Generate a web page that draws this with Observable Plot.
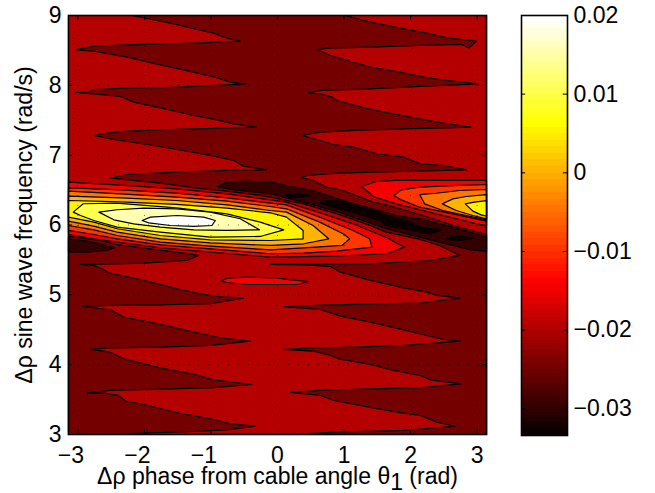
<!DOCTYPE html>
<html><head><meta charset="utf-8">
<script src="https://cdn.jsdelivr.net/npm/d3@7"></script>
<script src="https://cdn.jsdelivr.net/npm/@observablehq/plot@0.6"></script>
<style>
html,body{margin:0;padding:0;background:#fff}
#wrap{position:relative;width:655px;height:493px;overflow:hidden}
#wrap svg{position:absolute;top:0;background:transparent}
</style></head><body><div id="wrap"></div>
<script>
// Contour outlines, in data units: [phase (rad), frequency (rad/s)]
const PI = 3.1416;
const bgRegion = [[-PI,3],[PI,3],[PI,9],[-PI,9]];
const darkMain = [[-2.185,9],[-1.61,8.89],[-1.26,8.81],[-0.96,8.747],[-0.76,8.676],[-0.56,8.633],[-1.26,8.604],[-2.26,8.58],[-2.76,8.561],[-3.035,8.509],[-2.76,8.49],[-2.26,8.404],[-1.76,8.294],[-1.26,8.189],[-0.91,8.108],[-0.71,8.046],[-0.485,8.022],[-1.26,7.984],[-1.76,7.965],[-2.26,7.96],[-2.76,7.94],[-2.86,7.9],[-3.035,7.9],[-2.76,7.879],[-2.36,7.84],[-2.16,7.759],[-1.76,7.678],[-1.26,7.568],[-0.91,7.506],[-0.66,7.449],[-0.31,7.401],[-0.76,7.387],[-1.26,7.377],[-1.76,7.363],[-2.26,7.344],[-2.56,7.315],[-2.76,7.282],[-2.51,7.234],[-2.26,7.196],[-1.96,7.153],[-1.51,7.081],[-1.01,6.996],[-0.66,6.924],[-0.51,6.843],[-0.16,6.79],[-0.76,6.781],[-1.26,6.766],[-1.76,6.747],[-2.26,6.723],[-2.51,6.671],[-2.26,6.647],[-1.76,6.599],[-1.26,6.533],[-0.76,6.485],[-0.26,6.423],[-0.105,6.399],[0.135,6.351],[0.395,6.303],[0.895,6.16],[1.395,5.993],[1.635,5.898],[2.145,5.793],[2.435,5.707],[2.745,5.564],[2.295,5.492],[1.395,5.444],[0.395,5.435],[-0.105,5.435],[0.395,5.43],[0.795,5.406],[0.945,5.325],[1.395,5.206],[1.895,5.1],[2.245,5.039],[2.395,4.991],[2.745,4.953],[2.145,4.881],[1.395,4.867],[0.645,4.852],[0.095,4.829],[0.645,4.79],[0.845,4.728],[0.945,4.695],[1.395,4.609],[1.895,4.499],[2.245,4.418],[2.495,4.361],[2.755,4.337],[1.895,4.275],[1.145,4.251],[0.395,4.232],[0.095,4.218],[0.545,4.194],[0.795,4.132],[0.92,4.084],[1.395,4.003],[1.745,3.917],[2.145,3.845],[2.295,3.783],[2.76,3.726],[2.145,3.669],[1.395,3.654],[0.645,3.631],[0.195,3.602],[0.645,3.559],[0.845,3.487],[1.295,3.406],[1.795,3.32],[2.145,3.272],[2.395,3.177],[2.67,3.115],[1.895,3.058],[0.895,3.034],[0.145,3],[PI,3],[PI,5.864],[2.645,5.993],[2.145,6.151],[1.635,6.289],[1.435,6.327],[0.985,6.494],[0.735,6.542],[0.535,6.638],[0.36,6.676],[0.445,6.709],[0.895,6.743],[1.895,6.766],[2.845,6.79],[2.495,6.852],[2.145,6.876],[1.895,6.972],[1.495,7.02],[1.145,7.115],[0.845,7.153],[0.645,7.21],[0.37,7.282],[0.645,7.33],[1.145,7.354],[1.895,7.377],[2.395,7.387],[2.905,7.401],[2.395,7.473],[1.995,7.544],[1.545,7.626],[1.295,7.678],[0.895,7.783],[0.82,7.831],[0.645,7.879],[0.47,7.893],[0.645,7.926],[1.395,7.95],[2.145,7.984],[3.02,8.022],[2.545,8.07],[2.245,8.108],[1.895,8.179],[1.395,8.26],[1.045,8.356],[0.795,8.427],[0.595,8.509],[0.745,8.532],[1.395,8.547],[2.145,8.571],[2.77,8.585],[2.88,8.537],[2.995,8.633],[2.545,8.68],[2.245,8.747],[1.895,8.809],[1.395,8.905],[1.02,9]];
const darkLeft = [[-PI,5.836],[-2.67,5.779],[-2.42,5.721],[-1.92,5.659],[-1.52,5.611],[-1.185,5.564],[-1.36,5.492],[-2.01,5.454],[-2.76,5.435],[-2.96,5.435],[-2.76,5.42],[-2.635,5.373],[-2.535,5.315],[-2.01,5.206],[-1.51,5.086],[-1.16,5.015],[-0.91,4.976],[-0.51,4.953],[-1.01,4.872],[-1.76,4.857],[-2.51,4.848],[-2.935,4.833],[-2.51,4.786],[-2.31,4.681],[-1.76,4.576],[-1.26,4.466],[-0.86,4.385],[-0.41,4.337],[-1.01,4.275],[-1.76,4.251],[-2.51,4.241],[-2.81,4.218],[-2.51,4.179],[-2.31,4.084],[-1.76,3.955],[-1.26,3.86],[-0.96,3.783],[-0.385,3.716],[-1.01,3.669],[-1.76,3.65],[-2.51,3.631],[-2.86,3.597],[-2.61,3.592],[-2.385,3.559],[-2.285,3.478],[-2.01,3.43],[-1.51,3.311],[-1.01,3.225],[-0.71,3.153],[-0.335,3.12],[-0.76,3.067],[-1.26,3.043],[-2.01,3.02],[-2.41,3.01],[-2.76,3],[-PI,3]];
const deepBand = [[-0.91,6.552],[-0.76,6.614],[-0.46,6.628],[-0.11,6.614],[0.135,6.566],[0.535,6.494],[0.985,6.351],[1.435,6.232],[1.785,6.136],[2.135,6.089],[2.635,5.969],[PI,5.826],[PI,5.626],[2.895,5.645],[2.435,5.755],[2.145,5.826],[1.635,5.946],[1.395,6.027],[0.895,6.194],[0.395,6.327],[0.135,6.389],[-0.105,6.447],[-0.66,6.504]];
const deepLeft = [[-PI,5.802],[-2.87,5.769],[-2.67,5.731],[-2.445,5.674],[-2.57,5.635],[-2.87,5.611],[-PI,5.611]];
const blackA = [[0.135,6.436],[0.31,6.446],[0.51,6.422],[0.335,6.398],[0.135,6.398]];
const blackB = [[0.635,6.317],[0.735,6.35],[0.985,6.341],[1.135,6.279],[1.335,6.231],[1.485,6.198],[1.637,6.136],[1.937,6.064],[2.137,5.969],[2.462,5.93],[2.287,5.873],[2.037,5.921],[1.787,5.969],[1.637,5.992],[1.535,6.064],[1.135,6.183],[0.785,6.269]];
const blackC = [[2.537,5.811],[2.687,5.84],[2.947,5.811],[2.762,5.778],[2.612,5.787]];
const redIsland = [[-0.845,5.196],[-0.76,5.239],[-0.46,5.253],[-0.01,5.244],[0.195,5.215],[0.47,5.191],[0.295,5.148],[-0.105,5.148],[-0.46,5.148],[-0.76,5.177]];
const leftM015 = [[-PI,6.614],[-2.36,6.571],[-1.52,6.518],[-0.76,6.447],[-0.11,6.361],[0.135,6.327],[0.635,6.175],[1.135,6.017],[1.645,5.817],[1.905,5.683],[1.645,5.588],[0.895,5.554],[-0.105,5.54],[-1.01,5.611],[-1.76,5.673],[-2.41,5.755],[-2.76,5.802],[-PI,5.864]];
const leftM010 = [[-PI,6.533],[-2.36,6.504],[-1.52,6.456],[-0.76,6.389],[-0.11,6.313],[0.135,6.289],[0.635,6.113],[1.135,5.922],[1.385,5.802],[1.42,5.683],[0.895,5.626],[0.395,5.597],[-0.105,5.588],[-1.01,5.659],[-1.76,5.716],[-2.41,5.802],[-2.76,5.864],[-PI,5.922]];
const leftM005 = [[-PI,6.485],[-2.36,6.447],[-1.52,6.399],[-0.76,6.342],[-0.11,6.265],[0.135,6.232],[0.635,6.041],[0.985,5.874],[1.085,5.802],[0.97,5.707],[0.395,5.673],[-0.105,5.645],[-1.01,5.697],[-1.76,5.755],[-2.41,5.85],[-2.76,5.931],[-PI,5.993]];
const leftZero = [[-PI,6.413],[-2.36,6.389],[-1.52,6.351],[-0.76,6.289],[-0.11,6.208],[0.135,6.184],[0.535,5.993],[0.77,5.802],[0.395,5.731],[-0.105,5.707],[-1.01,5.745],[-1.76,5.802],[-2.41,5.898],[-2.76,5.984],[-PI,6.055]];
const leftP005 = [[-PI,6.351],[-2.36,6.332],[-1.52,6.294],[-0.76,6.241],[-0.11,6.175],[0.135,6.113],[0.385,5.922],[0.385,5.802],[-0.105,5.778],[-1.01,5.788],[-1.76,5.85],[-2.41,5.946],[-2.76,6.041],[-PI,6.113]];
const leftP010 = [[-3.07,6.184],[-2.92,6.304],[-2.42,6.313],[-1.52,6.246],[-0.76,6.16],[-0.26,6.041],[0.095,5.931],[-0.26,5.836],[-1.01,5.826],[-1.76,5.898],[-2.41,5.969],[-2.76,6.065],[-2.96,6.136]];
const leftP015 = [[-2.685,6.184],[-2.41,6.218],[-2.01,6.241],[-1.51,6.232],[-1.01,6.184],[-0.56,6.089],[-0.27,5.931],[-0.76,5.922],[-1.26,5.931],[-1.76,5.969],[-2.16,6.017],[-2.46,6.074]];
const leftP020 = [[-2.035,6.065],[-1.91,6.113],[-1.51,6.136],[-1.11,6.113],[-0.935,6.065],[-0.985,5.993],[-1.26,5.979],[-1.61,5.993],[-1.935,6.031]];
const rightM015 = [[1.26,6.552],[1.485,6.623],[1.785,6.638],[PI,6.638],[PI,5.984],[2.385,6.16],[1.785,6.303],[1.46,6.399]];
const rightM010 = [[1.747,6.422],[1.862,6.503],[2.137,6.541],[2.637,6.565],[PI,6.58],[PI,6.055],[2.637,6.16],[2.137,6.255],[1.862,6.36]];
const rightM005 = [[2.137,6.436],[2.387,6.455],[2.737,6.494],[PI,6.508],[PI,6.074],[2.837,6.136],[2.487,6.207],[2.212,6.303]];
const rightZero = [[2.477,6.303],[2.637,6.374],[2.837,6.408],[PI,6.436],[PI,6.088],[2.937,6.136],[2.687,6.207]];
const rightP005 = [[2.822,6.303],[2.962,6.327],[PI,6.35],[PI,6.126],[3.062,6.145],[2.937,6.198]];

// Painted in order, lowest level value of each band first where nested
const regions = [
  [-0.02, bgRegion],[-0.025, darkMain],[-0.025, darkLeft],[-0.03, deepBand],[-0.03, deepLeft],
  [-0.0334, blackA],[-0.0334, blackB],[-0.0334, blackC],[-0.015, redIsland],
  [-0.015, leftM015],[-0.01, leftM010],[-0.005, leftM005],[0, leftZero],[0.005, leftP005],[0.01, leftP010],[0.015, leftP015],[0.02, leftP020],
  [-0.015, rightM015],[-0.01, rightM010],[-0.005, rightM005],[0, rightZero],[0.005, rightP005]
];
const xTicks = [-3,-2,-1,0,1,2,3];
const yTicks = [3,4,5,6,7,8,9];
const cTicks = [-0.03,-0.02,-0.01,0,0.01,0.02];
const cDomain = [-0.0334,0.02];
const xLabel = "Δρ phase from cable angle θ1 (rad)";
const yLabel = "Δρ sine wave frequency (rad/s)";

const rows = regions.flatMap(([level, pts], id) => pts.map(([x,y]) => ({x,y,id,level})));
function hot(t){ // 64-step hot colormap
  const i = Math.min(64, Math.floor(t*64)+1);
  const r=Math.min(i/24,1), g=Math.min(Math.max(i-24,0)/24,1), b=Math.max(i-48,0)/16;
  return `rgb(${Math.round(r*255)},${Math.round(g*255)},${Math.round(b*255)})`;
}
const colorScale = {type:"linear", domain:cDomain, range:[0,1], interpolate:()=>hot, clamp:true};
const font = {fontFamily:"'Liberation Sans', Arial, sans-serif", color:"#000", background:"transparent"};
const minus = d => String(d).replace("-","−");
const FS = 23;

const main = Plot.plot({
  width:500, height:493, marginLeft:68, marginRight:14, marginTop:15, marginBottom:59,
  style:font, color:colorScale,
  x:{domain:[-PI,PI]}, y:{domain:[3,9]},
  marks:[
    Plot.line(rows,{x:"x",y:"y",z:"id",fill:"level",stroke:"#000",strokeWidth:1.2,curve:"linear-closed",strokeLinejoin:"round"}),
    Plot.gridX(xTicks,{stroke:"#000",strokeOpacity:0.55,strokeDasharray:"1 9"}),
    Plot.gridY(yTicks,{stroke:"#000",strokeOpacity:0.55,strokeDasharray:"1 9"}),
    Plot.ruleX(xTicks,{y1:3,y2:3.07,stroke:"#000",strokeWidth:1}),
    Plot.ruleX(xTicks,{y1:8.93,y2:9,stroke:"#000",strokeWidth:1}),
    Plot.ruleY(yTicks,{x1:-PI,x2:-3.08,stroke:"#000",strokeWidth:1}),
    Plot.ruleY(yTicks,{x1:3.08,x2:PI,stroke:"#000",strokeWidth:1}),
    Plot.axisX({ticks:xTicks.filter(d=>d<0),anchor:"bottom",tickSize:0,tickPadding:12,dx:-7,tickFormat:minus,label:null,fontSize:FS}),
    Plot.axisX({ticks:xTicks.filter(d=>d>=0),anchor:"bottom",tickSize:0,tickPadding:12,tickFormat:minus,label:null,fontSize:FS}),
    Plot.axisY({ticks:yTicks,anchor:"left",tickSize:0,tickPadding:7,tickFormat:minus,label:null,fontSize:FS}),
    Plot.frame({stroke:"#000",strokeWidth:1.6}),
    Plot.text([xLabel],{frameAnchor:"bottom",dy:49,text:d=>d,lineAnchor:"bottom",fontSize:FS}),
    Plot.text([yLabel],{frameAnchor:"left",dx:-44,rotate:-90,textAnchor:"middle",text:d=>d,fontSize:FS})
  ]
});
for (const t of main.querySelectorAll("text")) {
  if (t.textContent === xLabel) {
    const host = t.querySelector("tspan") || t;
    host.innerHTML = 'Δρ phase from cable angle θ<tspan dy="6">1</tspan><tspan dy="-6"> (rad)</tspan>';
  }
}
main.style.left = "0px";

const cells = d3.range(64).map(i => ({
  y1: cDomain[0]+(cDomain[1]-cDomain[0])*i/64,
  y2: cDomain[0]+(cDomain[1]-cDomain[0])*(i+1)/64
}));
const bar = Plot.plot({
  width:155, height:493, marginLeft:21, marginRight:88, marginTop:15, marginBottom:58,
  style:font, color:colorScale,
  x:{domain:[0,1],axis:null}, y:{domain:cDomain},
  marks:[
    Plot.rect(cells,{x1:0,x2:1,y1:"y1",y2:"y2",fill:d=>d.y1+1e-6,shapeRendering:"crispEdges"}),
    Plot.ruleY(cTicks,{x1:0,x2:0.09,stroke:"#000",strokeWidth:1}),
    Plot.ruleY(cTicks,{x1:0.91,x2:1,stroke:"#000",strokeWidth:1}),
    Plot.axisY({ticks:cTicks,anchor:"right",tickSize:0,tickPadding:6,tickFormat:minus,label:null,fontSize:FS}),
    Plot.frame({stroke:"#000",strokeWidth:1.6})
  ]
});
bar.style.left = "500px";
document.getElementById("wrap").append(main, bar);
</script></body></html>
